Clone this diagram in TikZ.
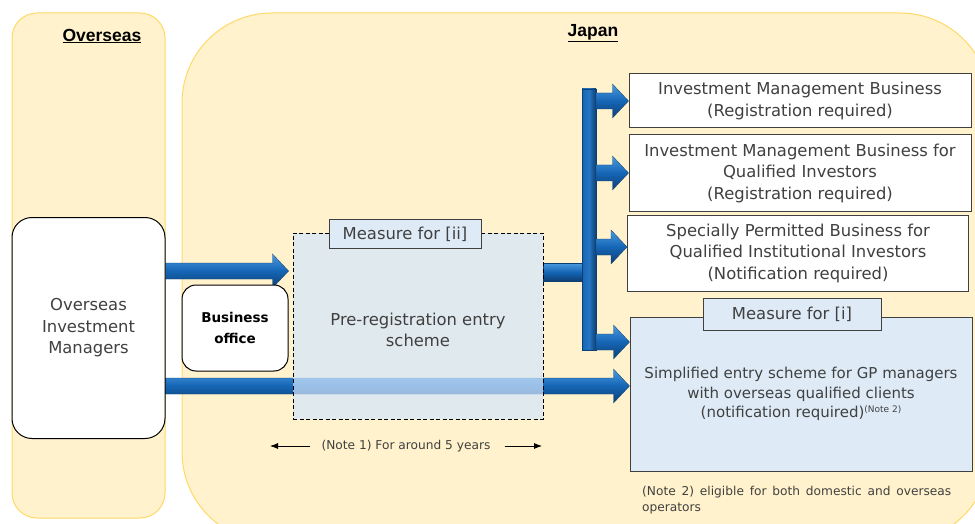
\documentclass[tikz,border=0pt]{standalone}
\usepackage{fontspec}
\setmainfont{DejaVu Sans}
\newfontfamily\headfont{Liberation Sans}
\usetikzlibrary{calc,arrows.meta}
\definecolor{panelfill}{HTML}{FFF2CC}
\definecolor{panelline}{HTML}{FFD966}
\definecolor{measfill}{HTML}{DEEBF7}
\definecolor{prefill}{RGB}{212,230,252}
\definecolor{txtgray}{HTML}{404040}
\definecolor{blueL}{HTML}{4B9BE0}
\definecolor{blueM}{HTML}{1565B5}
\definecolor{blueD}{HTML}{0D3F73}
\pgfdeclarelayer{bg}
\pgfdeclarelayer{arr}
\pgfsetlayers{bg,arr,main}
\newcommand\blockarr[2]{%
  \path[arrowshade] let \p1=(#1), \p2=(#2) in
    (\x1,\y2+8pt) -- (\x2-16pt,\y2+8pt) -- (\x2-16pt,\y2+17pt) -- (\x2,\y2)
    -- (\x2-16pt,\y2-17pt) -- (\x2-16pt,\y2-8pt) -- (\x1,\y2-8pt) -- cycle;}
\tikzset{
  panel/.style={fill=panelfill, draw=panelline, line width=1pt},
  arrowshade/.style={top color=blueL, bottom color=blueD, middle color=blueM, draw=blueD, line width=0.3pt},
  barshade/.style={left color=blueM, right color=blueD, middle color=blueM!70!blueL, draw=blueD, line width=0.3pt},
  mainfont/.style={font=\fontsize{16.4}{21.5}\selectfont, text=txtgray, align=center},
  whitebox/.style={mainfont, draw=txtgray, fill=white, line width=1pt, inner sep=0pt},
  measbox/.style={mainfont, draw=txtgray, fill=measfill, line width=1pt, inner sep=0pt},
  titletext/.style={font=\headfont\bfseries\fontsize{17.5}{20}\selectfont, text=black},
  notetext/.style={font=\fontsize{12.2}{16}\selectfont, text=txtgray, inner sep=0pt},
  notearrow/.style={-{Latex[length=8pt,width=6pt]}, line width=0.8pt, black}
}
\begin{document}
\begin{tikzpicture}[x=1pt,y=-1pt]
\useasboundingbox (0,0) rectangle (975,524);
\begin{pgfonlayer}{bg}
  \begin{scope}
    \clip (0,0) rectangle (975,524);
    \path[panel, rounded corners=25pt] (12,13) rectangle (165,518);
    \path[panel, rounded corners=90pt] (182,13) rectangle (990,542);
  \end{scope}
\end{pgfonlayer}

\node[titletext] (tov) at (102,36) {\underline{Overseas}};
\node[titletext] (tjp) at (593,33) {\underline{Japan}};

\node[whitebox, draw=black, rounded corners=20pt, minimum width=153pt, minimum height=221pt] (ovm) at (88.5,328) {Overseas\\Investment\\Managers};
\node[whitebox, draw=black, rounded corners=14pt, minimum width=106pt, minimum height=86pt, text=black, font=\bfseries\fontsize{13.5}{21}\selectfont] (bo) at (235,328) {Business\\office};

\node[draw=black, dash pattern=on 4pt off 2.5pt, line width=0.9pt, fill=prefill, fill opacity=0.7, minimum width=250pt, minimum height=186pt, inner sep=0pt] (pre) at (418,326) {};
\node[mainfont] (pretext) at (418,330) {Pre-registration entry\\scheme};
\node[measbox, minimum width=152pt, minimum height=29pt] (m2) at (405,234) {Measure for [ii]};

\node[whitebox, minimum width=342pt, minimum height=54pt] (b1) at (800,101) {Investment Management Business\\(Registration required)};
\node[whitebox, minimum width=342pt, minimum height=76pt] (b2) at (800,173) {Investment Management Business for\\Qualified Investors\\(Registration required)};
\node[whitebox, minimum width=341pt, minimum height=76pt] (b3) at (798,253) {Specially Permitted Business for\\Qualified Institutional Investors\\(Notification required)};
\node[measbox, minimum width=342pt, minimum height=154pt, font=\fontsize{15}{19.2}\selectfont] (sim) at (801,394) {Simplified entry scheme for GP managers\\with overseas qualified clients\\(notification required)\raisebox{5pt}{\fontsize{9}{9}\selectfont(Note 2)}};
\node[measbox, minimum width=178pt, minimum height=32pt] (m1) at (792,314) {Measure for [i]};

\coordinate (barT) at (589,89);
\coordinate (barB) at (589,350);
\begin{pgfonlayer}{arr}
  \blockarr{ovm.east |- 0,271}{$(pre.west |- 0,271)+(-4,0)$}
  \blockarr{ovm.east |- 0,386}{sim.west |- 0,386}
  \path[arrowshade] ($(pre.east |- 0,272)+(0,-9)$) rectangle ($(barT |- 0,272)+(-7,9)$);
  \path[barshade] ($(barT)+(-7,0)$) rectangle ($(barB)+(7,0)$);
  \blockarr{$(barT |- b1.west)+(7,0)$}{b1.west}
  \blockarr{$(barT |- b2.west)+(7,0)$}{b2.west}
  \blockarr{$(barT |- 0,247)+(7,0)$}{b3.west |- 0,247}
  \blockarr{$(barT |- 0,342)+(7,0)$}{sim.west |- 0,342}
\end{pgfonlayer}

\node[notetext] (n1) at (406,446) {(Note 1) For around 5 years};
\coordinate (n1L) at (270,446);
\coordinate (n1R) at (542,446);
\draw[notearrow] ($(n1.west)+(-11,0)$) -- (n1L);
\draw[notearrow] ($(n1.east)+(14,0)$) -- (n1R);

\node[notetext, anchor=north west, text width=309pt, align=justify] (n2) at (642,486) {(Note 2) eligible for both domestic and overseas operators};
\end{tikzpicture}
\end{document}
